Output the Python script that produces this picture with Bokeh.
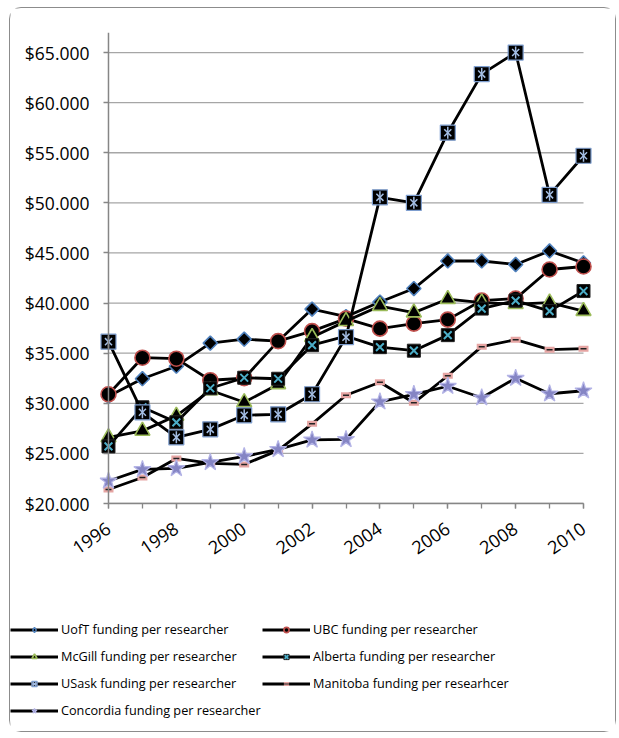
import math
from bokeh.plotting import figure
from bokeh.layouts import column
from bokeh.models import (FixedTicker, CustomJSTickFormatter, Legend, LegendItem,
                          Range1d, Span, ColumnDataSource)
from bokeh.embed import file_html
from bokeh.resources import INLINE

years = list(range(1996, 2011))
uoft = [30700, 32450, 33700, 36000, 36400, 36200, 39400, 38650, 40100, 41450, 44200, 44200, 43850, 45200, 44000]
ubc = [30900, 34550, 34450, 32300, 32500, 36200, 37200, 38450, 37450, 37950, 38350, 40250, 40450, 43350, 43650]
mcgill = [26600, 27250, 28750, 31300, 30100, 31900, 36600, 38200, 39700, 39050, 40400, 40050, 39900, 40050, 39200]
alberta = [25700, 29600, 28100, 31500, 32550, 32450, 35800, 36700, 35600, 35250, 36800, 39450, 40250, 39200, 41200]
usask = [36150, 29100, 26600, 27400, 28800, 28900, 30900, 36600, 50550, 50000, 57000, 62850, 65000, 50800, 54700]
manitoba = [21400, 22600, 24500, 24000, 23900, 25300, 27950, 30800, 32100, 30050, 32750, 35650, 36350, 35350, 35450]
concordia = [22250, 23400, 23500, 24100, 24700, 25400, 26350, 26400, 30150, 30900, 31700, 30550, 32500, 30950, 31250]

names = ["UofT funding per researcher", "UBC funding per researcher",
         "McGill funding per researcher", "Alberta funding per researcher",
         "USask funding per researcher", "Manitoba funding per researhcer",
         "Concordia funding per researcher"]
series = [uoft, ubc, mcgill, alberta, usask, manitoba, concordia]

y_ticks = [20000, 25000, 30000, 35000, 40000, 45000, 50000, 55000, 60000, 65000]
x_label_years = [1996, 1998, 2000, 2002, 2004, 2006, 2008, 2010]

AX_FONT = "Open Sans"
GRID = "#a6a6a6"
AXIS = "#868686"
LW = 2.8

p = figure(width=605, height=595, output_backend="svg", toolbar_location=None,
           x_range=Range1d(1995.735, 2010.265), y_range=Range1d(20000, 67000),
           min_border_left=89, min_border_right=23, min_border_top=24, min_border_bottom=100)
p.frame_align = False
p.outline_line_color = None
p.xgrid.visible = False
p.ygrid.visible = False

# horizontal gridlines between first and last year
p.segment(x0=[years[0]] * len(y_ticks), x1=[years[-1]] * len(y_ticks), y0=y_ticks, y1=y_ticks,
          line_color=GRID, line_width=1.3, level="underlay")

# y axis
p.yaxis.ticker = FixedTicker(ticks=y_ticks)
p.yaxis.formatter = CustomJSTickFormatter(code="return '$' + (tick/1000).toFixed(3);")
p.yaxis.axis_line_color = None
p.yaxis.major_tick_out = -4
p.yaxis.major_tick_in = 9
p.yaxis.major_tick_line_color = AXIS
p.yaxis.major_tick_line_width = 1.3
p.yaxis.minor_tick_line_color = None
p.yaxis.major_label_standoff = 10
p.yaxis.major_label_text_font = AX_FONT
p.yaxis.major_label_text_font_size = "17.5px"
p.yaxis.major_label_text_color = "#000000"
p.add_layout(Span(location=years[0], dimension="height", line_color=AXIS, line_width=1.5))

# x axis
p.xaxis.ticker = FixedTicker(ticks=x_label_years, minor_ticks=years)
p.xaxis.bounds = (years[0], years[-1])
p.xaxis.axis_line_color = AXIS
p.xaxis.axis_line_width = 1.5
p.xaxis.major_tick_out = 5
p.xaxis.major_tick_in = 0
p.xaxis.minor_tick_out = 5
p.xaxis.minor_tick_in = 0
p.xaxis.major_tick_line_color = AXIS
p.xaxis.minor_tick_line_color = AXIS
p.xaxis.major_tick_line_width = 1.3
p.xaxis.minor_tick_line_width = 1.3
p.xaxis.major_label_orientation = 0.6
p.xaxis.major_label_standoff = 18
p.xaxis.major_label_text_font = AX_FONT
p.xaxis.major_label_text_font_size = "18px"
p.xaxis.major_label_text_color = "#000000"

# legend figure (below the chart, same styles, no visible data in its frame)
q = figure(width=605, height=128, output_backend="svg", toolbar_location=None,
           x_range=Range1d(0, 1), y_range=Range1d(0, 1),
           x_axis_type=None, y_axis_type=None,
           min_border_left=0, min_border_right=0, min_border_top=0, min_border_bottom=0)
q.frame_align = False
q.outline_line_color = None
q.grid.visible = False


def add_series(fig, vals, k, legend_version=False):
    s = ColumnDataSource(dict(x=years, y=vals))
    r = [fig.line("x", "y", source=s, line_color="black", line_width=LW)]
    if k == 0:   # UofT
        if legend_version:
            r.append(fig.scatter("x", "y", source=s, marker="diamond", size=14,
                                 fill_color="black", line_color="#4f81bd", line_width=1.4))
        else:
            r.append(fig.scatter("x", "y", source=s, marker="square", angle=math.pi / 4, size=10,
                                 fill_color="black", line_color="#4f81bd", line_width=1.6))
    elif k == 1:  # UBC
        r.append(fig.scatter("x", "y", source=s, marker="circle", size=15,
                             fill_color="black", line_color="#c0504d", line_width=1.6))
    elif k == 2:  # McGill
        r.append(fig.scatter("x", "y", source=s, marker="triangle", size=15,
                             fill_color="black", line_color="#9bbb59", line_width=1.6))
    elif k == 3:  # Alberta
        r.append(fig.scatter("x", "y", source=s, marker="square", size=13,
                             fill_color="black", line_color="#222222", line_width=1))
        r.append(fig.scatter("x", "y", source=s, marker="x", size=11,
                             line_color="#4bacc6", line_width=2))
    elif k == 4:  # USask
        r.append(fig.scatter("x", "y", source=s, marker="square", size=15,
                             fill_color="black", line_color="#7f9fd0", line_width=1.2))
        r.append(fig.scatter("x", "y", source=s, marker="x", size=10,
                             line_color="#a3bde3", line_width=1.5))
        r.append(fig.scatter("x", "y", source=s, marker="dash", angle=math.pi / 2, size=12,
                             line_color="#a3bde3", line_width=1.5))
    elif k == 5:  # Manitoba
        r.append(fig.scatter("x", "y", source=s, marker="dash", size=10,
                             line_color="#e6a5a3", line_width=6 if not legend_version else 4,
                             line_cap="butt"))
        r.append(fig.scatter("x", "y", source=s, marker="dash", size=6,
                             line_color="#222222", line_width=1.5 if not legend_version else 1,
                             line_cap="butt"))
    else:  # Concordia
        r.append(fig.scatter("x", "y", source=s, marker="star", size=18,
                             fill_color="#8585c4", line_color="#b4b4e6", line_width=1.2))
    return r


items = []
for k, vals in enumerate(series):
    add_series(p, vals, k)
    items.append(LegendItem(label=names[k], renderers=add_series(q, vals, k, True)))


def make_legend(its, loc):
    return Legend(items=its, location=loc, orientation="vertical",
                  padding=0, margin=0, spacing=7,
                  glyph_width=48, glyph_height=13, label_height=20, label_standoff=3,
                  label_text_font=AX_FONT, label_text_font_size="12.7px",
                  label_text_color="#000000",
                  border_line_color=None, background_fill_alpha=0)


q.add_layout(make_legend([items[0], items[2], items[4], items[6]], (0, 11)))
q.add_layout(make_legend([items[1], items[3], items[5]], (252, 38)))

layout = column(p, q, spacing=0,
                styles={"margin-left": "9px", "margin-top": "7px",
                        "border": "1.5px solid #8c8c8c", "border-radius": "12px"})

open("out.html", "w").write(file_html(layout, INLINE))
